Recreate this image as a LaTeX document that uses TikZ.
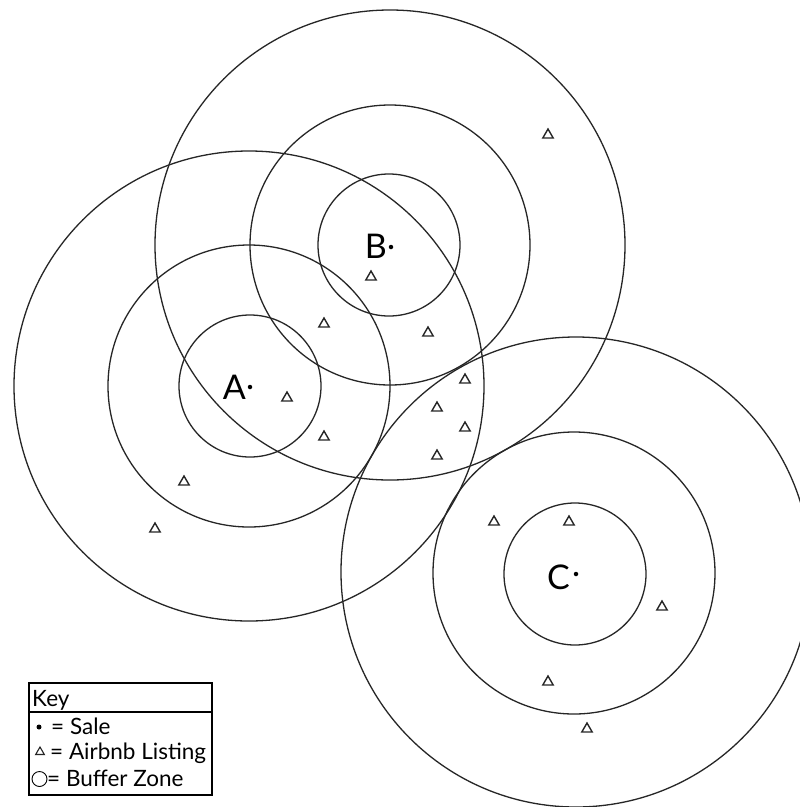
\documentclass[tikz,border=0pt]{standalone}
\usepackage{fontspec}
\setmainfont{Lato}
\usetikzlibrary{shapes.geometric}
\begin{document}
\begin{tikzpicture}[x=1pt,y=-1pt,
  zone/.style={draw=black!85, line width=1.3pt},
  listing/.style={regular polygon, regular polygon sides=3, draw=black!85, line width=1.4pt, inner sep=0pt, minimum size=12pt},
  sale/.style={circle, fill=black, inner sep=0pt, minimum size=4.5pt},
  ptlabel/.style={font=\fontsize{34}{34}\selectfont, inner sep=0pt, anchor=base east},
  keytext/.style={font=\fontsize{22.5}{22.5}\selectfont, inner sep=0pt, anchor=base west}]
\useasboundingbox (0,0) rectangle (800,807);
\fill[white] (0,0) rectangle (800,807);
% sales
\node[sale] (A) at (250,387) {};
\node[sale] (B) at (391,247) {};
\node[sale] (C) at (576,574) {};
\node[ptlabel] (lA) at (246,399) {A};
\node[ptlabel] (lB) at (387,258) {B};
\node[ptlabel] (lC) at (570,589) {C};
% buffer zones
\begin{scope}
\clip (0,0) rectangle (800,807);
\draw[zone] (250,386) circle[radius=71pt];
\draw[zone] (249,386) circle[radius=141pt];
\draw[zone] (249,386) circle[radius=235pt];
\draw[zone] (389,245) circle[radius=71pt];
\draw[zone] (390,245) circle[radius=140pt];
\draw[zone] (390,245) circle[radius=235pt];
\draw[zone] (575,574) circle[radius=71pt];
\draw[zone] (574,573) circle[radius=141pt];
\draw[zone] (576,572) circle[radius=235pt];
\end{scope}
% listings
\foreach \p [count=\i] in {(548,135),(371,277),(324,324),(428,333),(287,398),(324,437),(465,380),(437,408),(465,428),(437,456),(184,482),(155,529),(494,522),(569,522),(662,607),(548,682),(587,729)}
  \node[listing] (L\i) at \p {};
% key
\draw[line width=1.2pt] (29,683) rectangle (212,795);
\draw[line width=1.2pt] (29,712) -- (212,712);
\node[keytext] (kt) at (32,706) {Key};
\node[sale, minimum size=5pt] (k1) at (39,727) {};
\node[keytext] (k1t) at (51,734) {= Sale};
\node[listing, minimum size=10pt, line width=1.1pt] (k2) at (40,752) {};
\node[keytext] (k2t) at (50,759) {= Airbnb Listing};
\node[circle, draw, line width=0.9pt, minimum size=15pt, inner sep=0pt] (k3) at (39.5,779) {};
\node[keytext] (k3t) at (47,786) {= Buffer Zone};
\end{tikzpicture}
\end{document}
